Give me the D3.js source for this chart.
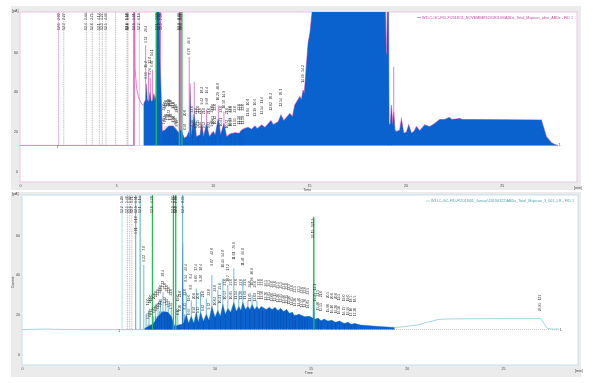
<!DOCTYPE html>
<html>
<head>
<meta charset="utf-8">
<script src="https://cdn.jsdelivr.net/npm/d3@7"></script>
<style>
  html, body { margin: 0; background: #fff; }
  svg { display: block; filter: blur(0.4px); font-family: "Liberation Sans", sans-serif; }
</style>
</head>
<body>
<svg id="chart" width="595" height="383"></svg>
<script>
const timeTicks = [0, 5, 10, 15, 20, 25];
const currentTicks = [0, 20, 40, 60];

// top run: [time, pA]
const topTrace = [[6.43,12.9],[6.43,34],[6.52,36],[6.56,44],[6.6,36],[6.69,35],[6.75,40],[6.8,35],[6.88,35.5],[6.95,39],[7.0,36],[7.06,38],[7.09,80.5],[7.23,80.5],[7.26,57.6],[7.33,35.8],[7.38,20],[7.52,20.6],[7.73,22.7],[7.95,22.7],[8.13,20.6],[8.25,19],[8.35,21],[8.52,16.5],[8.65,17.3],[8.77,20],[8.8,16],[8.82,44.2],[8.89,17.6],[9.04,29],[9.15,17.3],[9.34,18.1],[9.42,24],[9.53,17.3],[9.68,24],[9.82,17.3],[10.03,19.8],[10.13,18.1],[10.29,26.5],[10.41,18.1],[10.58,24],[10.72,17.3],[10.89,18.6],[11.15,19.3],[11.38,19],[11.5,20.6],[11.67,21.5],[11.84,22],[12.02,21],[12.19,22.7],[12.31,21.3],[12.54,23.2],[12.71,22],[13.02,25.4],[13.14,23.3],[13.4,24.9],[13.54,28.2],[13.69,25.4],[14.0,29],[14.14,27.4],[14.26,33.3],[14.52,37.5],[14.6,36],[14.69,40.8],[14.75,39],[14.85,52],[14.95,64.4],[15.05,70],[15.16,80.5],[18.96,80.5],[19.0,60],[19.03,58],[19.06,80.5],[19.12,80.5],[19.15,23.2],[19.22,24],[19.27,33.3],[19.33,23],[19.39,30],[19.45,21],[19.5,19.8],[19.7,20.5],[19.79,26],[19.91,19],[20.05,19.5],[20.17,23.2],[20.31,19],[20.45,20],[20.57,22.3],[20.74,20.3],[21.0,23.2],[21.26,22.3],[21.52,24],[21.78,26],[22.04,26],[22.27,27],[22.4,26],[22.82,26.5],[22.95,26],[23.42,26],[27.05,25.7],[27.31,17.3],[27.57,14.3],[27.75,13.4],[27.92,12.9]];
const topSolvent = [[0,12.9],[5.9,12.9],[5.92,80.5],[5.95,80.5],[5.97,52],[6.05,41.7],[6.15,37],[6.3,34],[6.43,33]];
const topSpikes = [[5.92,80.5],[6.52,63.5],[6.67,50],[6.76,47],[6.87,51],[7.28,80.5],[8.33,80.5],[8.78,57.5],[9.04,45],[9.42,31],[9.68,31],[10.29,33],[10.58,30],[19.1,80.5],[19.27,33],[19.39,52.6],[19.79,27]];
const topPale = [2.0, 6.19];
const topGuides = [2.27,3.44,3.75,4.12,4.27,4.46,4.96,5.55,5.6];
const topGreen = [7.07,8.27,8.4];
const topEnds = [2.0,2.27,3.44,3.75,4.12,4.27,4.46,5.55,5.57,5.6,5.91,6.19,7.09,7.2,7.3,8.27,8.32,8.37];
const topPeakLabels = [[6.52,64,'6.52','26.4'],[6.55,46,'6.55','15.2'],[6.76,48,'6.76','13.8'],[6.87,52,'6.87','14.1'],[7.73,27,'7.73','30.8'],[8.78,58,'8.78','46.6'],[9.42,33,'9.42','18.3'],[9.68,33,'9.68','16.4'],[10.29,35,'10.29','40.8'],[10.58,31,'10.58','14.9'],[11.84,27,'11.84','10.8'],[12.19,27,'12.19','10.6'],[12.54,28,'12.54','11.4'],[13.02,30,'13.02','70.2'],[13.54,32,'13.54','70.1'],[14.69,44,'14.69','54.2']];
const topHump = [[7.45,23],[7.53,24],[7.6,25],[7.68,25],[7.76,25],[7.84,25],[7.92,24],[8.0,24],[8.08,23],[8.16,22],[8.58,20],[8.95,22],[9.15,21],[9.25,22],[9.34,21],[9.53,21],[9.82,21],[9.95,22],[10.03,23],[10.13,23],[10.41,22],[10.72,21],[10.89,22],[10.97,22],[11.15,22],[11.38,23],[11.46,23],[11.58,23]];

// bottom run: [time, pA]
const lowerFill = [[6.38,12.3],[6.38,13],[6.81,15],[7.07,19],[7.33,21.5],[7.59,21],[7.76,19],[7.94,14],[8.11,14.5],[8.33,15],[8.35,55.8],[8.38,15.5],[8.42,16],[8.54,20],[8.66,15.5],[8.8,19],[8.93,15.5],[9.06,21],[9.17,16],[9.28,21],[9.43,16.5],[9.58,20],[9.72,17],[9.87,24],[10.03,18.5],[10.18,22],[10.31,19],[10.44,25],[10.57,20],[10.7,23],[10.85,21],[11.01,26],[11.14,21.5],[11.27,24],[11.38,22],[11.48,26],[11.61,22.5],[11.74,24],[11.85,22.5],[11.96,25],[12.09,22.5],[12.21,24],[12.32,22.5],[12.43,24],[12.7,22.5],[12.85,23.5],[13.0,22.5],[13.15,23.5],[13.3,22],[13.45,23],[13.6,21.5],[13.75,22.5],[13.9,20.5],[14.05,21],[14.16,19.3],[14.4,20],[14.7,18.8],[14.95,19],[15.13,18],[15.15,35],[15.2,17.5],[15.4,18],[15.55,16.8],[15.7,17.6],[15.9,16.6],[16.1,17],[16.3,16],[16.5,16.6],[16.75,15.4],[16.95,16],[17.1,15],[17.3,15.4],[17.6,14.6],[18.4,14],[19.35,13.4],[19.35,12.3]];
const lowerLine = [[0,12.3],[1.3,12.6],[2,12.4],[2.9,12.3],[5.1,12.3],[19.35,13.4],[19.87,13.8],[20.54,14.6],[21.06,16],[21.68,17.5],[22.4,17.7],[26.95,18],[27.3,13],[27.5,12.6],[27.9,12.6]];
const lowerSpikes = [[5.91,80.5],[6.14,80.5],[6.33,44.9],[6.45,20],[6.6,22],[6.95,25],[7.07,26],[7.2,27],[7.33,31],[7.47,27],[7.6,25],[7.76,24],[8.1,22],[8.35,80.5],[8.54,31],[8.8,27],[9.06,33],[9.28,31.4],[9.58,28],[9.87,39.8],[10.18,32.3],[10.44,38],[10.7,34.8],[11.01,43.2],[11.27,31.4],[11.48,37.3],[11.74,27],[11.96,29.8],[12.21,27],[15.15,69.2]];
const lowerPale = [5.2];
const lowerGuides = [5.48,5.6,5.71];
const lowerGreen = [6.78,7.87,7.99,15.17];
const lowerEnds = [5.2,5.48,5.6,5.71,5.91,6.14,6.78,7.87,7.93,7.99,8.35];
const lowerPeakLabels = [[5.91,60,'5.91','5.18'],[6.33,46,'6.33','7.8'],[7.33,33,'7.33','28.4'],[8.8,32,'8.8','8.4'],[8.54,36,'8.54','46.4'],[9.06,36,'9.06','17.4'],[9.28,36,'9.28','18.4'],[9.87,44,'9.87','42.8'],[10.44,43,'10.44','54.8'],[10.7,36,'10.7','17.2'],[11.01,47,'11.01','76.9'],[11.48,44,'11.48','66.8'],[11.96,34,'11.96','40.9'],[15.15,58,'15.15','121.9'],[15.25,26,'15.25','12.1'],[26.95,21,'26.95','137']];
const lowerHump = [[6.55,17],[6.65,18],[6.72,19],[6.85,20],[6.95,21],[7.05,22],[7.15,23],[7.25,24],[7.42,25],[7.55,24],[7.65,23],[7.74,22],[8.1,19],[8.2,21],[8.45,22],[8.66,19],[8.93,20],[9.17,20],[9.43,21],[9.72,22],[10.03,24],[10.31,25],[10.57,27],[10.85,27],[11.14,27],[11.38,27],[11.61,27],[11.85,26],[12.09,26],[12.32,27],[12.5,27],[12.7,26.5],[12.85,26.5],[13.0,26],[13.15,26],[13.3,25.5],[13.45,25.5],[13.6,25],[13.75,25],[13.9,24.5],[14.05,24],[14.2,23.5],[14.4,23.5],[14.55,23],[14.7,23],[14.85,22.5],[15.4,21.5],[15.55,21],[15.9,20.5],[16.1,20],[16.3,20],[16.5,19.5],[16.75,19],[16.95,19],[17.1,18.5],[17.3,18.5]];

const svg = d3.select('#chart');
const frame = (y, h) => svg.append('rect').attr('x', 11).attr('y', y).attr('width', 570).attr('height', h).attr('fill', '#ebebeb');
frame(6, 184);
frame(192, 185);

function drawPanel(o) {
  const x = d3.scaleLinear().domain([0, 28.9]).range([o.left, o.right]);
  const y = d3.scaleLinear().domain([0, 80.2]).range([o.zero, o.top]);
  const g = svg.append('g');
  const base = y(o.baseline);

  g.append('rect').attr('x', o.left).attr('y', o.top).attr('width', o.right - o.left).attr('height', o.bottom - o.top)
    .attr('fill', '#fff').attr('stroke', o.border).attr('stroke-width', 1);
  g.append('clipPath').attr('id', o.id).append('rect')
    .attr('x', o.left).attr('y', o.top).attr('width', o.right - o.left).attr('height', o.bottom - o.top);
  const plot = g.append('g').attr('clip-path', `url(#${o.id})`);

  const line = d3.line().x(d => x(d[0])).y(d => y(d[1]));
  const area = d3.area().x(d => x(d[0])).y0(base).y1(d => y(d[1]));
  const fillAt = t => {
    const i = Math.min(d3.bisector(d => d[0]).left(o.fill, t), o.fill.length - 1);
    return o.fill[i][1];
  };

  // dotted baseline and empty peak markers
  plot.append('line').attr('x1', x(o.baseStart)).attr('x2', x(27.9)).attr('y1', base).attr('y2', base)
    .attr('stroke', '#999').attr('stroke-width', 0.6).attr('stroke-dasharray', '1,1');
  plot.selectAll('.guide').data(o.guides).enter().append('line')
    .attr('x1', d => x(d)).attr('x2', d => x(d)).attr('y1', o.top).attr('y2', base)
    .attr('stroke', '#8a8a8a').attr('stroke-width', 0.6).attr('stroke-dasharray', '1,0.8');
  plot.selectAll('.pale').data(o.pale).enter().append('line')
    .attr('x1', d => x(d)).attr('x2', d => x(d)).attr('y1', o.top).attr('y2', base)
    .attr('stroke', o.paleColor).attr('stroke-width', 0.9);

  plot.selectAll('.spike').data(o.spikes).enter().append('line')
    .attr('x1', d => x(d[0])).attr('x2', d => x(d[0])).attr('y1', base).attr('y2', d => y(d[1]))
    .attr('stroke', o.spikeColor).attr('stroke-width', d => d[1] > 80 ? o.tallWidth : 0.9);

  plot.append('path').datum(o.fill).attr('d', line).attr('fill', 'none')
    .attr('stroke', o.halo).attr('stroke-width', o.haloWidth);
  plot.append('path').datum(o.extra).attr('d', line).attr('fill', 'none')
    .attr('stroke', o.lineColor).attr('stroke-width', 0.8);
  plot.append('path').datum(o.fill).attr('d', area).attr('fill', '#0a62cf');

  // drop lines at the integrated peaks
  plot.selectAll('.drop').data(o.hump).enter().append('line')
    .attr('x1', d => x(d[0])).attr('x2', d => x(d[0])).attr('y1', base).attr('y2', d => y(fillAt(d[0])))
    .attr('stroke', '#0a3f9c').attr('stroke-width', 0.6).attr('opacity', o.dropOpacity);

  plot.selectAll('.green').data(o.green).enter().append('line')
    .attr('x1', d => x(d)).attr('x2', d => x(d)).attr('y1', d => d > 15 ? y(69) : o.top).attr('y2', base)
    .attr('stroke', '#1fbf55').attr('stroke-width', 1.3);

  // rotated retention time / area labels
  const label = (px, py, text) => g.append('text')
    .attr('transform', `translate(${px + 1},${py}) rotate(-90)`)
    .attr('font-size', 3.4).attr('fill', '#333').text(text);
  o.ends.forEach(t => {
    label(x(t), o.top + 8, t.toFixed(2));
    label(x(t), o.top + 18, '12.' + Math.round(t * 10) % 10);
  });
  o.peakLabels.forEach(d => {
    label(x(d[0]), y(d[1]) - 1, d[2]);
    label(x(d[0]), y(d[1]) - 12, d[3]);
  });
  o.hump.forEach(d => {
    label(x(d[0]), y(d[1]) - 1, d[0].toFixed(2));
    label(x(d[0]), y(d[1]) - 15, d[1].toFixed(1));
  });

  // axes
  const bottomAxis = d3.axisBottom(x).tickValues(timeTicks).tickSize(0).tickPadding(2).tickFormat(d3.format('d'));
  const leftAxis = d3.axisLeft(y).tickValues(currentTicks).tickSize(0).tickPadding(2).tickFormat(d3.format('d'));
  for (const [axis, tr] of [[bottomAxis, `translate(0,${o.bottom})`], [leftAxis, `translate(${o.left},0)`]]) {
    const a = g.append('g').attr('transform', tr).call(axis);
    a.select('.domain').remove();
    a.selectAll('text').attr('font-size', 3.6).attr('fill', '#444');
  }
  const small = (px, py, text) => g.append('text').attr('x', px).attr('y', py)
    .attr('font-size', 3.6).attr('fill', '#444').text(text);
  small(12, o.top - 0.5, '[pA]');
  small(o.right - 3, o.bottom + 7, '[min]');
  small(x(14.7), o.bottom + 8.5, 'Time');
  small(x(o.oneAt), base + 2.5, '1');
  small(x(27.95), base + 1, '1');

  // legend
  g.append('line').attr('x1', o.legendX - 5).attr('x2', o.legendX - 1).attr('y1', o.legendY - 1).attr('y2', o.legendY - 1)
    .attr('stroke', o.lineColor).attr('stroke-width', 0.7);
  g.append('text').attr('x', o.legendX).attr('y', o.legendY).attr('font-size', 3.8).attr('fill', o.legendColor)
    .attr('textLength', o.right - 4 - o.legendX).attr('lengthAdjust', 'spacingAndGlyphs').text(o.legend);
}

drawPanel({
  id: 'clipTop', left: 20, right: 577, top: 12, bottom: 182, zero: 171, baseline: 12.9, baseStart: 2,
  fill: topTrace, extra: topSolvent, spikes: topSpikes, guides: topGuides, pale: topPale, green: topGreen, ends: topEnds,
  peakLabels: topPeakLabels, hump: topHump, oneAt: 1.9,
  border: '#edc6e2', spikeColor: '#e66fc0', paleColor: '#ecb4dc', lineColor: '#e25bb8', halo: '#e77fc8', haloWidth: 1.1, tallWidth: 1.4, dropOpacity: 0.35,
  legendX: 422, legendY: 18.5, legendColor: '#c2479b',
  legend: 'W1LC-GC-FID-F\\2018\\11_NOVEMBER\\20181109\\ABDx_Total_Majoran_olive_ABDx - FID 1'
});

drawPanel({
  id: 'clipLow', left: 22, right: 578, top: 195, bottom: 365, zero: 354, baseline: 12.3, baseStart: 5.2,
  fill: lowerFill, extra: lowerLine, spikes: lowerSpikes, guides: lowerGuides, pale: lowerPale, green: lowerGreen, ends: lowerEnds,
  peakLabels: lowerPeakLabels, hump: lowerHump, oneAt: 5.0,
  border: '#c5e0ea', spikeColor: '#63b2cf', paleColor: '#b4dbe6', lineColor: '#8ccbd8', halo: '#63b2cf', haloWidth: 0.7, tallWidth: 1.1, dropOpacity: 0.8,
  legendX: 431, legendY: 202, legendColor: '#4f9fb2',
  legend: 'W1LC-GC-FID-F\\2019\\01_Januar\\20190122\\ABDx_Total_Majoran_3_001_LR - FID 1'
});

svg.append('text').attr('transform', 'translate(14,288) rotate(-90)').attr('font-size', 3.4).attr('fill', '#444').text('Current');
</script>
</body>
</html>
